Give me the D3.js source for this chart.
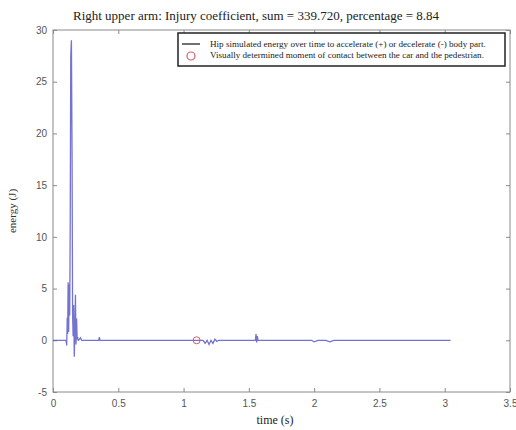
<!DOCTYPE html>
<html>
<head>
<meta charset="utf-8">
<script src="https://cdn.jsdelivr.net/npm/d3@7"></script>
<style>
  body { margin: 0; background: #fff; }
  svg { display: block; }
</style>
</head>
<body>
<svg width="516" height="430"></svg>
<script>
// energy curve (time in s, energy in J)
var times = [0, 0.1, 0.105, 0.109, 0.112, 0.116, 0.12, 0.124, 0.128, 0.132, 0.136, 0.141, 0.146, 0.15,
  0.154, 0.158, 0.163, 0.168, 0.172, 0.176, 0.181, 0.185, 0.189, 0.193, 0.2, 0.21, 0.22, 0.23, 0.24,
  0.35, 0.355, 0.36, 1.1, 1.15, 1.165, 1.18, 1.195, 1.21, 1.225, 1.24, 1.255, 1.27,
  1.55, 1.555, 1.56, 1.565, 1.57, 1.58, 1.98, 2.0, 2.03, 2.09, 2.12, 2.15, 3.045];
var energy = [0, 0, -0.5, 2.2, 0.6, 5.6, 0.8, 5.4, 2.4, 11.5, 27.5, 29, 18, 2.6,
  0.4, 3.4, -1.6, 1.2, 4.4, -0.4, 2.1, 0.1, 0.3, 0, 0.05, 0.25, 0, 0, 0,
  0, 0.3, 0, 0, 0, -0.3, 0, -0.4, 0, -0.3, 0.1, -0.1, 0,
  0, 0.6, -0.2, 0.4, 0, 0, 0, -0.15, 0, 0, -0.15, 0, 0];

// moment of contact marker
var contactT = [1.1];
var contactE = [0];

var xTicks = [0, 0.5, 1, 1.5, 2, 2.5, 3, 3.5];
var yTicks = [-5, 0, 5, 10, 15, 20, 25, 30];

var titleText = "Right upper arm: Injury coefficient, sum = 339.720, percentage = 8.84";
var legendLabels = ["Hip simulated energy over time to accelerate (+) or decelerate (-) body part.",
  "Visually determined moment of contact between the car and the pedestrian."];

var svg = d3.select("svg");
var pL = 53, pR = 510, pT = 30, pB = 392;

var x = d3.scaleLinear().domain([0, 3.5]).range([pL, pR]);
var y = d3.scaleLinear().domain([-5, 30]).range([pB, pT]);

// frame
svg.append("rect").attr("x", pL).attr("y", pT).attr("width", pR - pL).attr("height", pB - pT)
  .style("fill", "none").style("stroke", "#8a8a8a").style("stroke-width", 1);

// axes with inward ticks, MATLAB style
var axisColor = "#8a8a8a";
var plain = function (d) { return String(d); };
function styleAxis(g, showLabels) {
  g.select(".domain").remove();
  g.selectAll(".tick line").style("stroke", axisColor);
  if (!showLabels) g.selectAll(".tick text").remove();
  g.selectAll(".tick text").style("fill", "#555").style("font-family", "Liberation Sans, Arial, sans-serif").style("font-size", "10px");
}
svg.append("g").attr("transform", "translate(0," + pB + ")")
  .call(d3.axisBottom(x).tickValues(xTicks).tickSize(-4).tickPadding(8).tickFormat(plain))
  .call(function (g) { styleAxis(g, true); });
svg.append("g").attr("transform", "translate(0," + pT + ")")
  .call(d3.axisTop(x).tickValues(xTicks).tickSize(-4))
  .call(function (g) { styleAxis(g, false); });
svg.append("g").attr("transform", "translate(" + pL + ",0)")
  .call(d3.axisLeft(y).tickValues(yTicks).tickSize(-4).tickPadding(6).tickFormat(plain))
  .call(function (g) { styleAxis(g, true); });
svg.append("g").attr("transform", "translate(" + pR + ",0)")
  .call(d3.axisRight(y).tickValues(yTicks).tickSize(-4))
  .call(function (g) { styleAxis(g, false); });

// curve
var pts = times.map(function (t, i) { return [t, energy[i]]; });
var line = d3.line().x(function (d) { return x(d[0]); }).y(function (d) { return y(d[1]); });
svg.append("path").datum(pts).attr("d", line)
  .style("fill", "none").style("stroke", "#5c5cc8").style("stroke-width", 1.3).style("stroke-opacity", 0.85);

// contact marker
svg.selectAll(".contact").data(contactT).enter().append("circle").attr("class", "contact")
  .attr("cx", function (d) { return x(d); })
  .attr("cy", function (d, i) { return y(contactE[i]); })
  .attr("r", 3.5)
  .style("fill", "none").style("stroke", "#d55a6a").style("stroke-width", 1);

// title and axis labels
var serif = "Liberation Serif, Times New Roman, serif";
svg.append("text").attr("x", 256).attr("y", 20).attr("text-anchor", "middle")
  .style("font-family", serif).style("font-size", "13px").style("fill", "#222").text(titleText);
svg.append("text").attr("x", 275).attr("y", 424).attr("text-anchor", "middle")
  .style("font-family", serif).style("font-size", "12px").style("fill", "#222").text("time (s)");
svg.append("text").attr("transform", "translate(16,211) rotate(-90)").attr("text-anchor", "middle")
  .style("font-family", serif).style("font-size", "11px").style("fill", "#333").text("energy (J)");

// legend
var lg = svg.append("g");
lg.append("rect").attr("x", 178).attr("y", 33).attr("width", 327).attr("height", 33)
  .style("fill", "#fff").style("stroke", "#222").style("stroke-width", 1.5);
lg.append("line").attr("x1", 182).attr("x2", 200).attr("y1", 44).attr("y2", 44)
  .style("stroke", "#111").style("stroke-width", 1.2);
lg.append("circle").attr("cx", 191).attr("cy", 56).attr("r", 4)
  .style("fill", "none").style("stroke", "#d55a6a").style("stroke-width", 1.2);
lg.selectAll(".ltext").data(legendLabels).enter().append("text").attr("class", "ltext")
  .attr("x", 210).attr("y", function (d, i) { return 47 + i * 11; })
  .style("font-family", serif).style("font-size", "9.1px").style("fill", "#222")
  .text(function (d) { return d; });
</script>
</body>
</html>
